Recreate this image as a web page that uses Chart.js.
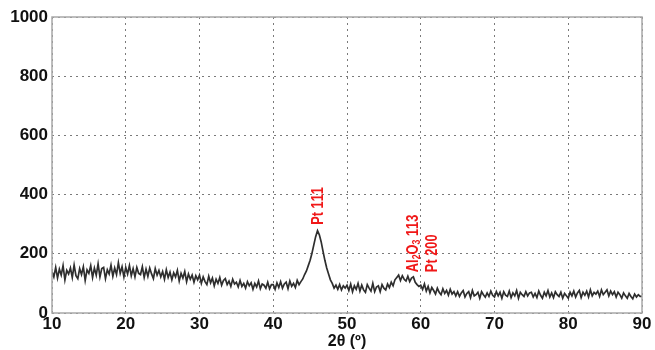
<!DOCTYPE html>
<html>
<head>
<meta charset="utf-8">
<script src="https://cdn.jsdelivr.net/npm/chart.js@4/dist/chart.umd.min.js"></script>
<style>
  body { margin: 0; background: #fff; }
  #wrap { width: 655px; height: 350px; }
</style>
</head>
<body>
<div id="wrap"><canvas id="xrd" width="655" height="350"></canvas></div>
<script>
// 2-theta sampling of the scan
const angleStart = 10;
const angleStep = 0.25;

// intensity, one row = 5 degrees
const intensity = [
  140,122,154,118,148,128,160,112,144,132,152,120,162,126,116,150,130,156,110,146,
  134,160,120,152,128,166,122,150,154,116,146,132,162,124,152,130,170,134,156,122,
  154,132,160,126,150,122,154,134,130,156,120,148,124,152,132,116,150,128,144,122,
  140,114,146,120,138,112,136,122,144,108,134,118,140,106,132,114,128,104,126,112,
  128,100,122,106,96,124,102,118,92,114,100,120,94,110,116,96,108,90,114,98,
  104,88,110,90,100,84,106,92,102,80,100,88,108,82,98,94,84,104,82,96,
  96,80,102,86,106,84,98,104,82,108,90,100,86,110,96,106,115,130,142,160,
  178,202,230,258,278,264,240,208,178,152,132,112,100,84,94,80,96,78,92,84,
  94,76,98,72,92,80,100,74,94,78,70,96,84,74,100,72,88,92,72,96,
  84,78,98,86,104,92,112,120,128,110,126,114,108,124,106,118,122,104,96,90,
  94,80,98,74,90,68,86,76,64,84,70,62,82,66,76,60,80,64,72,58,
  72,56,68,76,54,66,72,52,76,58,62,70,50,72,62,54,68,56,74,60,
  54,72,58,70,50,72,60,56,74,52,68,58,76,50,70,62,56,72,58,68,
  70,54,66,52,74,60,50,70,58,76,54,68,52,72,62,56,70,50,66,58,
  50,70,58,74,54,68,76,52,70,60,74,54,78,58,70,64,74,56,78,62,
  70,78,58,74,62,72,54,70,62,50,68,58,50,66,56,48,64,54,62,56,
  56
];

const xTicks = [10, 20, 30, 40, 50, 60, 70, 80, 90];
const yTicks = [0, 200, 400, 600, 800, 1000];

// peak annotations
const peakLabels = ['Pt 111', 'Al2O3 113', 'Pt 200'];
const peakAngles = [46.1, 59.0, 61.6];
const peakLabelBase = [298, 138, 138];

const points = intensity.map((v, i) => ({ x: angleStart + i * angleStep, y: v }));

const tickFont = { family: "'Liberation Sans', Arial, sans-serif", size: 17, weight: 'bold' };
const noteFont = "'Liberation Sans', Arial, sans-serif";

const frame = {
  id: 'frame',
  afterDraw(chart) {
    const { ctx, chartArea: a } = chart;
    ctx.save();
    ctx.strokeStyle = '#a8a8a8';
    ctx.lineWidth = 1.5;
    ctx.strokeRect(a.left, a.top, a.right - a.left, a.bottom - a.top);
    ctx.restore();
  }
};

// red rotated peak labels, digits right after a letter become subscripts
const peakNotes = {
  id: 'peakNotes',
  afterDatasetsDraw(chart) {
    const { ctx, scales } = chart;
    ctx.save();
    ctx.fillStyle = '#f01818';
    ctx.textBaseline = 'middle';
    ctx.textAlign = 'left';
    peakLabels.forEach((txt, k) => {
      const px = scales.x.getPixelForValue(peakAngles[k]);
      const py = scales.y.getPixelForValue(peakLabelBase[k]);
      ctx.save();
      ctx.translate(px, py);
      ctx.rotate(-Math.PI / 2);
      ctx.scale(0.8, 1);
      let pos = 0;
      for (let i = 0; i < txt.length; i++) {
        const ch = txt[i];
        const sub = /[0-9]/.test(ch) && i > 0 && /[A-Za-z]/.test(txt[i - 1]);
        ctx.font = sub ? `bold 11px ${noteFont}` : `bold 16px ${noteFont}`;
        ctx.fillText(ch, pos, sub ? 4 : 0);
        pos += ctx.measureText(ch).width;
      }
      ctx.restore();
    });
    ctx.restore();
  }
};

new Chart(document.getElementById('xrd'), {
  type: 'line',
  data: {
    datasets: [{
      data: points,
      borderColor: '#2e2e2e',
      borderWidth: 1.7,
      pointRadius: 0,
      fill: false,
      tension: 0
    }]
  },
  options: {
    responsive: false,
    animation: false,
    devicePixelRatio: 1,
    layout: { padding: { top: 17, right: 13, left: 0, bottom: 0 } },
    plugins: { legend: { display: false }, tooltip: { enabled: false } },
    scales: {
      x: {
        type: 'linear',
        min: 10,
        max: 90,
        afterBuildTicks(s) { s.ticks = xTicks.map(v => ({ value: v })); },
        afterFit(s) { s.height = 37; },
        ticks: { color: '#111', font: tickFont, padding: 1, maxRotation: 0, callback: v => String(v) },
        grid: { color: '#7a7a7a', lineWidth: 1, drawTicks: false },
        border: { display: false, dash: [2, 4] },
        title: {
          display: true,
          text: '2θ (º)',
          color: '#111',
          font: { family: "'Liberation Sans', Arial, sans-serif", size: 16, weight: 'bold', lineHeight: 1 },
          padding: { top: 0, bottom: 0 }
        }
      },
      y: {
        min: 0,
        max: 1000,
        afterBuildTicks(s) { s.ticks = yTicks.map(v => ({ value: v })); },
        afterFit(s) { s.width = 52; },
        ticks: { color: '#111', font: tickFont, padding: 4, callback: v => String(v) },
        grid: { color: '#7a7a7a', lineWidth: 1, drawTicks: false },
        border: { display: false, dash: [2, 4] }
      }
    }
  },
  plugins: [frame, peakNotes]
});
</script>
</body>
</html>
